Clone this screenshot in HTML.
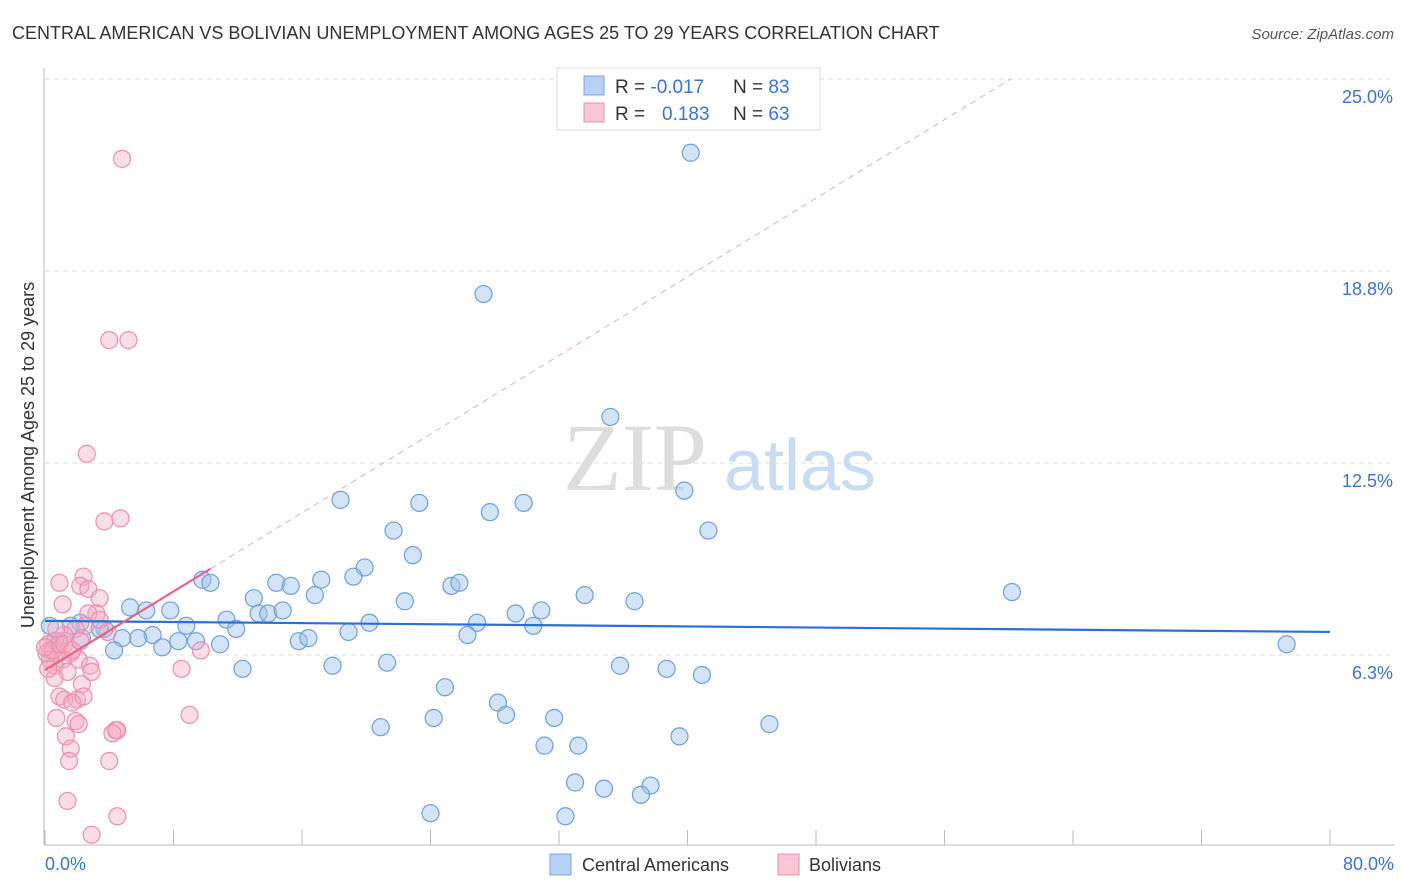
<!DOCTYPE html>
<html><head><meta charset="utf-8"><style>
body{margin:0;background:#fff;font-family:"Liberation Sans",sans-serif;}
svg{display:block}
</style></head><body>
<svg id="chart" width="1406" height="892" xmlns="http://www.w3.org/2000/svg">
<text x="12" y="39" font-size="18" fill="#333">CENTRAL AMERICAN VS BOLIVIAN UNEMPLOYMENT AMONG AGES 25 TO 29 YEARS CORRELATION CHART</text>
<text x="1394" y="39" font-size="15" fill="#555" font-style="italic" text-anchor="end">Source: ZipAtlas.com</text>
<g>
<text x="635" y="490" font-size="96" fill="#ddd" font-family="Liberation Serif" text-anchor="middle">ZIP</text>
<text x="800" y="490" font-size="72" fill="#c9dcf3" text-anchor="middle">atlas</text>
</g>
<g id="grid"></g>
<g id="axes"></g>
<g id="marks"></g>
<text transform="translate(34,455) rotate(-90)" font-size="18" fill="#333" text-anchor="middle">Unemployment Among Ages 25 to 29 years</text>
<text x="45" y="870" font-size="18" fill="#3a72d8">0.0%</text>
<text x="1394" y="870" font-size="18" fill="#3a72d8" text-anchor="end">80.0%</text>
<g>
<rect x="557" y="68" width="263" height="62" fill="#fff" stroke="#ddd"/>
<rect x="584" y="76" width="20" height="19" fill="#b8d2f5" stroke="#7aa7e6"/>
<rect x="584" y="103" width="20" height="19" fill="#f9c6d5" stroke="#ec8fab"/>
<text x="615" y="93" font-size="19" fill="#333">R = <tspan fill="#3a72d8">-0.017</tspan></text>
<text x="733" y="93" font-size="19" fill="#333">N = <tspan fill="#3a72d8">83</tspan></text>
<text x="615" y="120" font-size="19" fill="#333">R = </text>
<text x="662" y="120" font-size="19" fill="#3a72d8">0.183</text>
<text x="733" y="120" font-size="19" fill="#333">N = <tspan fill="#3a72d8">63</tspan></text>
</g>
<g>
<rect x="550" y="854" width="21" height="21" fill="#b8d2f5" stroke="#7aa7e6"/>
<text x="582" y="871" font-size="18" fill="#333">Central Americans</text>
<rect x="778" y="854" width="21" height="21" fill="#f9c6d5" stroke="#ec8fab"/>
<text x="809" y="871" font-size="18" fill="#333">Bolivians</text>
</g>
</svg>
<script>
const yTicks=[6.25,12.5,18.75,25];
const yTickLabels=["6.3%","12.5%","18.8%","25.0%"];
const xTicks=[0,8,16,24,32,40,48,56,64,72,80];
const blueX=[40.2,27.3,35.2,39.8,18.4,23.3,27.7,29.8,41.3,21.7,22.9,19.9,9.8,10.3,14.4,15.3,17.2,19.2,25.3,25.8,33.6,60.2,36.7,22.4,16.8,13.0,5.3,6.3,7.8,11.3,13.3,13.9,14.8,11.9,8.8,20.2,26.9,29.3,30.9,30.4,18.9,26.3,15.8,16.4,6.7,5.8,4.8,7.3,8.3,9.4,10.9,4.3,3.7,2.2,1.6,0.9,2.3,77.3,21.3,17.9,12.3,35.8,38.7,40.9,24.9,28.2,28.7,24.2,31.7,45.1,20.9,39.5,31.1,33.2,33.0,34.8,37.7,37.1,24.0,32.4,0.3,0.6,3.4];
const blueY=[22.6,18.0,14.0,11.6,11.3,11.2,10.9,11.2,10.3,10.3,9.5,9.1,8.7,8.6,8.6,8.5,8.7,8.8,8.5,8.6,8.2,8.3,8.0,8.0,8.2,8.1,7.8,7.7,7.7,7.4,7.6,7.6,7.7,7.1,7.2,7.3,7.3,7.6,7.7,7.2,7.0,6.9,6.7,6.8,6.9,6.8,6.8,6.5,6.7,6.7,6.6,6.4,7.1,7.3,7.2,6.7,6.8,6.6,6.0,5.9,5.8,5.9,5.8,5.6,5.2,4.7,4.3,4.2,4.2,4.0,3.9,3.6,3.3,3.3,2.1,1.9,2.0,1.7,1.1,1.0,7.2,6.7,7.1];
const pinkX=[4.8,4.0,5.2,2.6,3.7,4.7,0.9,2.4,2.2,2.7,1.1,3.4,3.2,2.7,3.4,2.5,3.9,1.9,1.2,0.6,0.2,0.3,0.8,1.6,0.6,1.1,2.1,2.8,1.4,0.6,2.3,2.9,8.5,9.7,0.9,1.2,2.0,1.7,2.4,0.7,1.9,2.1,9.0,4.4,4.5,4.2,1.3,1.6,1.5,4.0,1.4,4.5,2.9,0.3,0.1,0.5,0.9,0.0,1.2,1.7,2.2,0.7,0.2];
const pinkY=[22.4,16.5,16.5,12.8,10.6,10.7,8.6,8.8,8.5,8.4,7.9,8.1,7.6,7.6,7.4,7.2,7.0,7.1,6.9,6.7,6.6,6.4,6.3,6.3,5.9,6.1,6.1,5.9,5.7,5.5,5.3,5.7,5.8,6.4,4.9,4.8,4.8,4.7,4.9,4.2,4.1,4.0,4.3,3.8,3.8,3.7,3.6,3.2,2.8,2.8,1.5,1.0,0.4,6.1,6.3,6.4,6.6,6.5,6.6,6.4,6.7,7.1,5.8];
const blueTrend=[7.36,7.0];
const pinkTrend=[5.76,0.32];
const pinkSolidEnd=10.3;

const NS="http://www.w3.org/2000/svg";
const X0=45,X1=1330,Y0=847,PPY=30.72;
function sx(v){return X0+(v/80)*(X1-X0);}
function sy(v){return Y0-v*PPY;}
function mk(tag,attrs,parent){const e=document.createElementNS(NS,tag);for(const k in attrs)e.setAttribute(k,attrs[k]);parent.appendChild(e);return e;}
const grid=document.getElementById('grid'),axes=document.getElementById('axes'),marks=document.getElementById('marks');
yTicks.forEach((t,i)=>{
 const l=mk('line',{x1:45,x2:1395,y1:sy(t),y2:sy(t),stroke:'#ddd','stroke-dasharray':'5,4'},grid);
 
 
 const tx=mk('text',{x:1393,y:sy(t)+24,'font-size':18,fill:'#3a72d8','text-anchor':'end'},grid);
 tx.textContent=yTickLabels[i];
 
 
});
const ya=mk('line',{x1:44,x2:44,y1:68,y2:845,stroke:'#bbb'},axes);


const xa=mk('line',{x1:44,x2:1395,y1:845,y2:845,stroke:'#bbb'},axes);


xTicks.forEach(t=>{
 const l=mk('line',{x1:sx(t),x2:sx(t),y1:830,y2:845,stroke:'#bbb'},axes);
 
 
});
blueX.forEach((v,i)=>{
 const c=mk('circle',{cx:sx(v),cy:sy(blueY[i]),r:8.5,fill:'rgba(160,196,240,0.45)',stroke:'#6c9fe0','stroke-width':1.2},marks);
 
 
});
pinkX.forEach((v,i)=>{
 const c=mk('circle',{cx:sx(v),cy:sy(pinkY[i]),r:8.5,fill:'rgba(246,170,195,0.4)',stroke:'#ec8fab','stroke-width':1.2},marks);
 
 
});
const xEndDash=(25-pinkTrend[0])/pinkTrend[1];
const pd=mk('line',{x1:sx(pinkSolidEnd),y1:sy(pinkTrend[0]+pinkTrend[1]*pinkSolidEnd),x2:sx(xEndDash),y2:sy(25),stroke:'#eeaabd','stroke-dasharray':'6,5','stroke-width':1},marks);


const bt=mk('line',{x1:sx(0),y1:sy(blueTrend[0]),x2:sx(80),y2:sy(blueTrend[1]),stroke:'#2a6fd6','stroke-width':2.2},marks);


const pt=mk('line',{x1:sx(0),y1:sy(pinkTrend[0]),x2:sx(pinkSolidEnd),y2:sy(pinkTrend[0]+pinkTrend[1]*pinkSolidEnd),stroke:'#e8628a','stroke-width':2.2},marks);


</script>
</body></html>
